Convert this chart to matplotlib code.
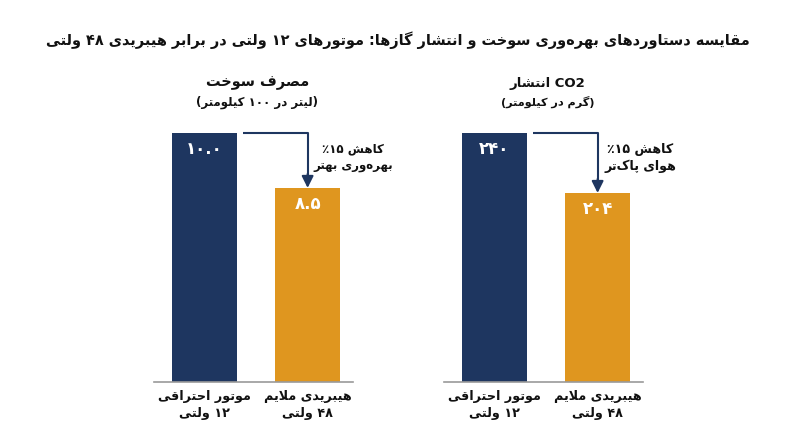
import matplotlib
matplotlib.use("Agg")
import matplotlib.pyplot as plt

# ---------------- data ----------------
title_text = "مقایسه دستاوردهای بهره\u200cوری سوخت و انتشار گازها: موتورهای ۱۲ ولتی در برابر هیبریدی ۴۸ ولتی"
categories = ["موتور احتراقی\n۱۲ ولتی", "هیبریدی ملایم\n۴۸ ولتی"]
fuel_values = [10.0, 8.5]
fuel_labels = ["۱۰.۰", "۸.۵"]
co2_values = [240, 204]
co2_labels = ["۲۴۰", "۲۰۴"]
fuel_title = "مصرف سوخت"
fuel_unit = "(لیتر در ۱۰۰ کیلومتر)"
co2_title = "انتشار CO2"
co2_unit = "(گرم در کیلومتر)"
fuel_note = "کاهش ۱۵٪\nبهره\u200cوری بهتر"
co2_note = "کاهش ۱۵٪\nهوای پاک\u200cتر"

NAVY = "#1e3660"
ORANGE = "#df961f"
TEXT = "#111111"

# ---------------- simple Arabic/Persian shaping ----------------
FORMS = {
    "\u0627": ("\uFE8D", "\uFE8E", None, None),
    "\u0622": ("\uFE81", "\uFE82", None, None),
    "\u0628": ("\uFE8F", "\uFE90", "\uFE91", "\uFE92"),
    "\u067E": ("\uFB56", "\uFB57", "\uFB58", "\uFB59"),
    "\u062A": ("\uFE95", "\uFE96", "\uFE97", "\uFE98"),
    "\u062B": ("\uFE99", "\uFE9A", "\uFE9B", "\uFE9C"),
    "\u062C": ("\uFE9D", "\uFE9E", "\uFE9F", "\uFEA0"),
    "\u0686": ("\uFB7A", "\uFB7B", "\uFB7C", "\uFB7D"),
    "\u062D": ("\uFEA1", "\uFEA2", "\uFEA3", "\uFEA4"),
    "\u062E": ("\uFEA5", "\uFEA6", "\uFEA7", "\uFEA8"),
    "\u062F": ("\uFEA9", "\uFEAA", None, None),
    "\u0630": ("\uFEAB", "\uFEAC", None, None),
    "\u0631": ("\uFEAD", "\uFEAE", None, None),
    "\u0632": ("\uFEAF", "\uFEB0", None, None),
    "\u0698": ("\uFB8A", "\uFB8B", None, None),
    "\u0633": ("\uFEB1", "\uFEB2", "\uFEB3", "\uFEB4"),
    "\u0634": ("\uFEB5", "\uFEB6", "\uFEB7", "\uFEB8"),
    "\u0635": ("\uFEB9", "\uFEBA", "\uFEBB", "\uFEBC"),
    "\u0636": ("\uFEBD", "\uFEBE", "\uFEBF", "\uFEC0"),
    "\u0637": ("\uFEC1", "\uFEC2", "\uFEC3", "\uFEC4"),
    "\u0638": ("\uFEC5", "\uFEC6", "\uFEC7", "\uFEC8"),
    "\u0639": ("\uFEC9", "\uFECA", "\uFECB", "\uFECC"),
    "\u063A": ("\uFECD", "\uFECE", "\uFECF", "\uFED0"),
    "\u0641": ("\uFED1", "\uFED2", "\uFED3", "\uFED4"),
    "\u0642": ("\uFED5", "\uFED6", "\uFED7", "\uFED8"),
    "\u06A9": ("\uFB8E", "\uFB8F", "\uFB90", "\uFB91"),
    "\u06AF": ("\uFB92", "\uFB93", "\uFB94", "\uFB95"),
    "\u0644": ("\uFEDD", "\uFEDE", "\uFEDF", "\uFEE0"),
    "\u0645": ("\uFEE1", "\uFEE2", "\uFEE3", "\uFEE4"),
    "\u0646": ("\uFEE5", "\uFEE6", "\uFEE7", "\uFEE8"),
    "\u0648": ("\uFEED", "\uFEEE", None, None),
    "\u0647": ("\uFEE9", "\uFEEA", "\uFEEB", "\uFEEC"),
    "\u06CC": ("\uFBFC", "\uFBFD", "\uFBFE", "\uFBFF"),
    "\u064A": ("\uFEF1", "\uFEF2", "\uFEF3", "\uFEF4"),
    "LA": ("\uFEFB", "\uFEFC", None, None),
}
ZWNJ = "\u200C"


def shape_run(run):
    toks = []
    i = 0
    while i < len(run):
        if run[i] == "\u0644" and i + 1 < len(run) and run[i + 1] == "\u0627":
            toks.append("LA")
            i += 2
        else:
            toks.append(run[i])
            i += 1
    out = []
    for k, t in enumerate(toks):
        if t == ZWNJ or t not in FORMS:
            continue
        prev = toks[k - 1] if k > 0 else None
        nxt = toks[k + 1] if k + 1 < len(toks) else None
        pc = prev is not None and prev in FORMS and FORMS[prev][2] is not None
        nc = FORMS[t][2] is not None and nxt is not None and nxt in FORMS
        iso, fin, ini, med = FORMS[t]
        if pc and nc:
            out.append(med)
        elif pc:
            out.append(fin)
        elif nc:
            out.append(ini)
        else:
            out.append(iso)
    return "".join(out)


def cls(s, i):
    c = s[i]
    if c in FORMS or c == ZWNJ:
        return "A"
    if c.isdigit() or ("a" <= c.lower() <= "z"):
        return "N"
    if c == "." and 0 < i < len(s) - 1 and s[i - 1].isdigit() and s[i + 1].isdigit():
        return "N"
    return "O"


MIRROR = {"(": ")", ")": "("}


def visual_line(s, base="R"):
    runs = []
    for i in range(len(s)):
        c = cls(s, i)
        if runs and runs[-1][0] == c and c != "O":
            runs[-1][1] += s[i]
        else:
            runs.append([c, s[i]])
    pieces = []
    for c, txt in runs:
        if c == "A":
            pieces.append(shape_run(txt)[::-1])
        elif c == "N":
            pieces.append(txt)
        else:
            pieces.append(MIRROR.get(txt, txt) if base == "R" else txt)
    if base == "R":
        pieces = pieces[::-1]
    return "".join(pieces)


def fa(s, base="R"):
    return "\n".join(visual_line(line, base) for line in s.split("\n"))


# ---------------- figure ----------------
plt.rcParams["font.family"] = ["DejaVu Sans"]
W, H = 800, 447
fig = plt.figure(figsize=(8, 4.47), dpi=100)
fig.patch.set_facecolor("white")
renderer = fig.canvas.get_renderer()


def ftext(xp, yp, s, width=None, fs=10, **kw):
    t = fig.text(xp / W, 1 - yp / H, s, ha="center", va="center",
                 fontsize=fs, fontweight="bold", color=kw.pop("color", TEXT), **kw)
    if width is not None:
        w = t.get_window_extent(renderer).width
        t.set_fontsize(fs * width / w)
    return t


def px_axes(x0, x1, y_top, y_bot):
    return fig.add_axes([x0 / W, 1 - y_bot / H, (x1 - x0) / W, (y_bot - y_top) / H])


ftext(398, 40, fa(title_text), width=705, fs=12)

panels = [
    dict(x0=154, x1=353, vals=fuel_values, labs=fuel_labels, ylim=(3.2, 10.0),
         title=fuel_title, unit=fuel_unit, note=fuel_note, tbase="R",
         tw=104, uw=122, nw=80, ncx=353),
    dict(x0=444, x1=643, vals=co2_values, labs=co2_labels, ylim=(90.5, 240.0),
         title=co2_title, unit=co2_unit, note=co2_note, tbase="L",
         tw=76, uw=94, nw=72, ncx=640),
]

xpos = [0, 1]
bw = 0.63
for p in panels:
    ax = px_axes(p["x0"], p["x1"], 133, 382)
    ax.set_xlim(-0.49, 1.44)
    ax.set_ylim(*p["ylim"])
    ax.bar(xpos, p["vals"], width=bw, color=[NAVY, ORANGE], zorder=2)
    ax.axis("off")
    ax.axhline(p["ylim"][0], color="#9a9a9a", lw=1.2, zorder=3, clip_on=False)
    span = p["ylim"][1] - p["ylim"][0]
    ppu = 249 / span  # pixels per unit
    for x, v, lab in zip(xpos, p["vals"], p["labs"]):
        ax.text(x, v - 16 / ppu, fa(lab), ha="center", va="center", color="white",
                fontsize=12, fontweight="bold", zorder=4)
    # arrow
    y0 = p["vals"][0]
    y1 = p["vals"][1]
    ax.plot([0.375, 1, 1], [y0, y0, y1 + 11 / ppu], color=NAVY, lw=1.5,
            clip_on=False, zorder=5, solid_capstyle="butt")
    ax.annotate("", xy=(1, y1), xytext=(1, y1 + 14 / ppu),
                arrowprops=dict(arrowstyle="-|>,head_length=0.7,head_width=0.35",
                                color=NAVY, lw=1.5, shrinkA=0, shrinkB=0),
                zorder=6, annotation_clip=False)
    # annotation text
    ftext(p["ncx"], 158, fa(p["note"]), width=p["nw"], fs=9, linespacing=1.4)
    # panel titles
    pcx = (p["x0"] + p["x1"]) / 2 + 4
    ftext(pcx, 83, fa(p["title"], p["tbase"]), width=p["tw"], fs=10)
    ftext(pcx, 102, fa(p["unit"]), width=p["uw"], fs=9)
    # category labels
    for x, cat in zip(xpos, categories):
        xp = p["x0"] + (204.5 - 154) + 103 * x
        ftext(xp, 405, fa(cat), fs=9.2, linespacing=1.45)

fig.savefig("out.png", dpi=100, facecolor="white")
